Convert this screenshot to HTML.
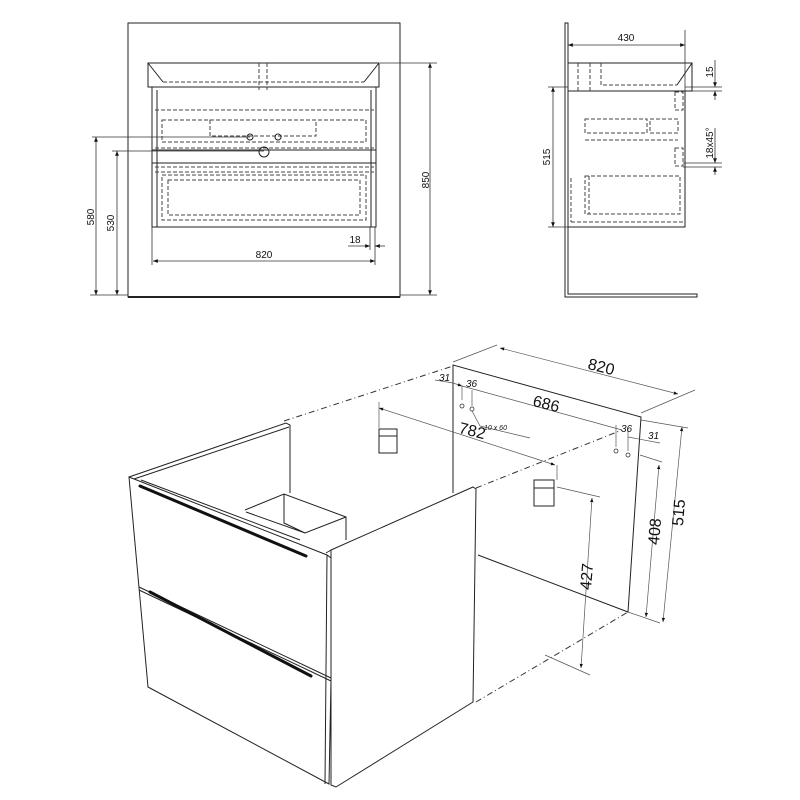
<!DOCTYPE html>
<html><head><meta charset="utf-8"><style>
html,body{margin:0;padding:0;background:#fff;}
svg{display:block;font-family:"Liberation Sans",sans-serif;}
</style></head><body>
<svg width="800" height="800" viewBox="0 0 800 800" xmlns="http://www.w3.org/2000/svg">
<defs>
<marker id="a" viewBox="0 0 10 10" refX="10" refY="5" markerWidth="6" markerHeight="6" orient="auto-start-reverse"><path d="M0,1 L10,5 L0,9z" fill="#111"/></marker>
</defs>
<!-- FRONT VIEW -->
<g fill="none" stroke="#222" stroke-width="1">
<rect x="128" y="23" width="272" height="274"/>
<line x1="128" y1="297" x2="400" y2="297" stroke-width="2"/>
<rect x="148" y="63" width="231" height="24"/>
<line x1="148" y1="63" x2="163" y2="82"/><line x1="379" y1="63" x2="364" y2="82"/>
<rect x="152" y="87" width="224" height="140"/>
<line x1="157" y1="90" x2="157" y2="227"/><line x1="371" y1="90" x2="371" y2="227"/>
<line x1="152" y1="150" x2="376" y2="150"/><line x1="152" y1="163" x2="376" y2="163"/>
<g stroke-dasharray="4,2" stroke="#444">
<line x1="163" y1="82" x2="364" y2="82"/>
<line x1="259" y1="63" x2="259" y2="90"/><line x1="267" y1="63" x2="267" y2="90"/>
<line x1="155" y1="110" x2="374" y2="110"/>
<rect x="162" y="120" width="204" height="22"/>
<rect x="210" y="120" width="106" height="16"/>
<line x1="155" y1="148" x2="374" y2="148"/>
<line x1="155" y1="167" x2="374" y2="167"/><line x1="155" y1="172" x2="374" y2="172"/>
<rect x="162" y="175" width="204" height="45"/>
<rect x="168" y="180" width="192" height="35"/>
</g>
<circle cx="250" cy="137" r="3"/><circle cx="278" cy="137" r="3"/><circle cx="264" cy="152" r="5"/>
</g>
<g stroke="#333" stroke-width="0.8" fill="none">
<line x1="380" y1="63" x2="437" y2="63"/>
<line x1="430" y1="63" x2="430" y2="295" marker-start="url(#a)" marker-end="url(#a)"/>
<line x1="92" y1="137" x2="250" y2="137"/>
<line x1="96" y1="137" x2="96" y2="295" marker-start="url(#a)" marker-end="url(#a)"/>
<line x1="112" y1="151" x2="264" y2="151"/>
<line x1="117" y1="151" x2="117" y2="295" marker-start="url(#a)" marker-end="url(#a)"/>
<line x1="90" y1="295" x2="128" y2="295"/><line x1="400" y1="295" x2="437" y2="295"/>
<line x1="152" y1="227" x2="152" y2="265"/><line x1="375" y1="227" x2="375" y2="265"/><line x1="370" y1="227" x2="370" y2="250"/>
<line x1="153" y1="261" x2="375" y2="261" marker-start="url(#a)" marker-end="url(#a)"/>
<line x1="348" y1="246" x2="370" y2="246" marker-end="url(#a)"/>
<line x1="385" y1="246" x2="375" y2="246" marker-end="url(#a)"/>
</g>
<g font-size="10" fill="#111">
<text x="264" y="258" text-anchor="middle">820</text>
<text x="355" y="243" text-anchor="middle">18</text>
<text transform="translate(429,180) rotate(-90)" text-anchor="middle">850</text>
<text transform="translate(94,217) rotate(-90)" text-anchor="middle">580</text>
<text transform="translate(114,223) rotate(-90)" text-anchor="middle">530</text>
</g>
<!-- SIDE VIEW -->
<g fill="none" stroke="#222" stroke-width="1">
<path d="M565,23 V297 H697 V294 H568 V23z"/>
<rect x="568" y="63" width="124" height="28"/>
<line x1="692" y1="63" x2="677" y2="85"/>
<rect x="568" y="91" width="117" height="136"/>
<g stroke-dasharray="4,2" stroke="#444">
<path d="M601,63 V85 H677"/><line x1="578" y1="63" x2="578" y2="91"/><line x1="590" y1="63" x2="590" y2="91"/>
<rect x="585" y="119" width="62" height="14"/><rect x="650" y="119" width="28" height="14"/>
<line x1="585" y1="140" x2="678" y2="140"/>
<rect x="675" y="92" width="8" height="18"/><rect x="675" y="148" width="8" height="18"/>
<rect x="585" y="176" width="95" height="38"/><line x1="589" y1="176" x2="589" y2="214"/>
<line x1="571" y1="178" x2="571" y2="222"/><line x1="571" y1="222" x2="683" y2="222"/>
</g>
</g>
<g stroke="#333" stroke-width="0.8" fill="none">
<line x1="685" y1="30" x2="685" y2="91"/>
<line x1="568" y1="45" x2="685" y2="45" marker-start="url(#a)" marker-end="url(#a)"/>
<line x1="548" y1="87" x2="568" y2="87"/><line x1="548" y1="227" x2="568" y2="227"/>
<line x1="553" y1="87" x2="553" y2="227" marker-start="url(#a)" marker-end="url(#a)"/>
<line x1="685" y1="87" x2="722" y2="87"/><line x1="692" y1="91" x2="722" y2="91"/>
<line x1="715" y1="60" x2="715" y2="87" marker-end="url(#a)"/><line x1="715" y1="100" x2="715" y2="91" marker-end="url(#a)"/>
<line x1="683" y1="163" x2="722" y2="163"/><line x1="683" y1="167" x2="722" y2="167"/>
<line x1="715" y1="128" x2="715" y2="163" marker-end="url(#a)"/><line x1="715" y1="175" x2="715" y2="167" marker-end="url(#a)"/>
</g>
<g font-size="10" fill="#111">
<text x="626" y="41" text-anchor="middle">430</text>
<text transform="translate(550,157) rotate(-90)" text-anchor="middle">515</text>
<text transform="translate(713,72) rotate(-90)" text-anchor="middle">15</text>
<text transform="translate(713,143) rotate(-90)" text-anchor="middle">18x45°</text>
</g>
<!-- ISO VIEW -->
<g fill="none" stroke="#222" stroke-width="1">
<path d="M453,493 V365 L641,417 L628,612 L478,555"/>
<g stroke-dasharray="6,3,1,3" stroke="#333">
<line x1="284" y1="421" x2="453" y2="366"/>
<line x1="476" y1="488" x2="622" y2="430"/>
<line x1="476" y1="702" x2="628" y2="612"/>
</g>
<!-- brackets -->
<rect x="379" y="429" width="18" height="24"/><line x1="379" y1="436" x2="397" y2="436"/>
<rect x="534" y="480" width="20" height="26"/><line x1="534" y1="488" x2="554" y2="488"/>
<!-- left side panel -->
<path d="M129,477 L286,423 L290,425 L290,493"/>
<path d="M134,479 L289,427"/>
<path d="M141,480 L300,540"/>
<!-- inner box -->
<path d="M245,510 L284,494 L346,517 L346,540 M284,494 L284,523 L305,533 M246,512 L305,533 L346,517"/>
<!-- right side panel -->
<path d="M331,550 L473,487 L476,489 L473,702 L336,787 L331,785z"/>
<line x1="326" y1="553" x2="331" y2="550"/>
<!-- front -->
<path d="M129,477 L327,555 L331,558 L331,680 L329,784 L148,687z"/>
<line x1="327" y1="555" x2="325" y2="784"/>
<line x1="139" y1="587" x2="331" y2="678"/>
<line x1="139" y1="590" x2="331" y2="681"/>
</g>
<g stroke="#111" stroke-width="3" stroke-linecap="round">
<line x1="140" y1="486" x2="306" y2="556"/>
<line x1="150" y1="592" x2="311" y2="676"/>
</g>
<g fill="#fff" stroke="#333" stroke-width="0.8">
<circle cx="462" cy="406" r="2"/><circle cx="472" cy="409" r="2"/><circle cx="616" cy="451" r="2"/><circle cx="628" cy="455" r="2"/>
</g>
<g stroke="#555" stroke-width="0.7" fill="none">
<line x1="453" y1="362" x2="497" y2="345"/><line x1="641" y1="413" x2="695" y2="390"/>
<line x1="500" y1="348" x2="678" y2="394" marker-start="url(#a)" marker-end="url(#a)"/>
<line x1="435" y1="380" x2="453" y2="383"/><line x1="453" y1="383" x2="462" y2="386" marker-end="url(#a)"/>
<line x1="462" y1="386" x2="622" y2="430"/>
<line x1="472" y1="390" x2="472" y2="406"/><line x1="462" y1="386" x2="462" y2="400"/>
<line x1="616" y1="425" x2="616" y2="447"/><line x1="628" y1="428" x2="628" y2="451"/>
<line x1="628" y1="437" x2="660" y2="443"/>
<line x1="472" y1="411" x2="480" y2="426"/><line x1="480" y1="426" x2="530" y2="438"/>
<line x1="379" y1="408" x2="555" y2="465" marker-start="url(#a)" marker-end="url(#a)"/>
<line x1="379" y1="402" x2="379" y2="428"/><line x1="557" y1="465" x2="557" y2="480"/>
<line x1="557" y1="487" x2="600" y2="497"/>
<line x1="592" y1="498" x2="581" y2="668" marker-start="url(#a)" marker-end="url(#a)"/>
<line x1="545" y1="655" x2="590" y2="675"/>
<line x1="640" y1="455" x2="662" y2="462"/>
<line x1="659" y1="465" x2="646" y2="617" marker-start="url(#a)" marker-end="url(#a)"/>
<line x1="628" y1="612" x2="660" y2="623"/>
<line x1="641" y1="420" x2="688" y2="428"/>
<line x1="682" y1="427" x2="663" y2="622" marker-start="url(#a)" marker-end="url(#a)"/>
</g>
<g fill="#111">
<text font-size="16" transform="translate(600,372) rotate(14)" text-anchor="middle">820</text>
<text font-size="16" transform="translate(545,409) rotate(14)" text-anchor="middle">686</text>
<text font-size="16" transform="translate(471,436) rotate(14)" text-anchor="middle">782</text>
<text font-size="16" transform="translate(684,513) rotate(-85)" text-anchor="middle">515</text>
<text font-size="16" transform="translate(660,532) rotate(-85)" text-anchor="middle">408</text>
<text font-size="16" transform="translate(592,577) rotate(-85)" text-anchor="middle">427</text>
<text font-size="10" font-style="italic" x="439" y="381">31</text>
<text font-size="10" font-style="italic" x="466" y="387">36</text>
<text font-size="7" font-style="italic" x="484" y="430">10 x 60</text>
<text font-size="10" font-style="italic" x="621" y="432">36</text>
<text font-size="10" font-style="italic" x="648" y="439">31</text>
</g>
</svg>
</body></html>
